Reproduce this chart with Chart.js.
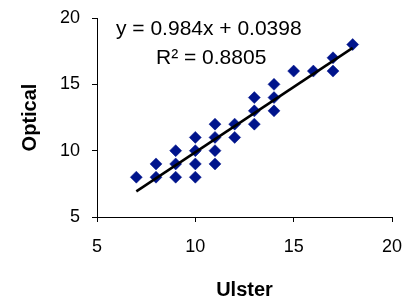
<!DOCTYPE html>
<html>
<head>
<meta charset="utf-8">
<script src="https://cdn.jsdelivr.net/npm/chart.js@4"></script>
<style>
  body { margin: 0; background: #fff; }
</style>
</head>
<body>
<canvas id="myChart" width="406" height="303"></canvas>
<script>
/* globals Chart */

// Ulster vs Optical readings
const ulster = [7, 8, 8, 9, 9, 9, 10, 10, 10, 10, 11, 11, 11, 11, 12, 12, 13, 13, 13, 14, 14, 14, 15, 16, 17, 17, 18];
const optical = [8, 8, 9, 8, 9, 10, 8, 9, 10, 11, 9, 10, 11, 12, 11, 12, 12, 13, 14, 13, 14, 15, 16, 16, 16, 17, 18];

// trendline end points (y = 0.984x + 0.0398)
const trendX = [7, 18];
const trendY = [6.93, 17.75];

const equationText = "y = 0.984x + 0.0398";
const rSquaredText = "R\u00b2 = 0.8805";

const FONT = "'Liberation Sans', Arial, sans-serif";

const equationLabel = {
  id: "equationLabel",
  afterDatasetsDraw(chart) {
    const c = chart.ctx;
    c.save();
    c.fillStyle = "#000";
    c.font = "21px " + FONT;
    c.textBaseline = "alphabetic";
    c.textAlign = "left";
    c.fillText(equationText, 116, 35);
    c.fillText(rSquaredText, 156, 64);
    c.restore();
  },
};

const ctx = document.getElementById("myChart").getContext("2d");

/* exported myChart */
const myChart = new Chart(ctx, {
  type: "scatter",
  plugins: [equationLabel],
  data: {
    datasets: [
      {
        type: "line",
        data: trendX.map((x, i) => ({ x, y: trendY[i] })),
        borderColor: "#000",
        borderWidth: 2.5,
        pointRadius: 0,
        fill: false,
        order: 0,
      },
      {
        data: ulster.map((x, i) => ({ x, y: optical[i] })),
        pointStyle: "rectRot",
        pointRadius: 6,
        backgroundColor: "#00148c",
        borderColor: "#00148c",
        borderWidth: 0.5,
        order: 1,
      },
    ],
  },
  options: {
    responsive: false,
    animation: false,
    events: [],
    layout: {
      padding: { left: 0, top: 18, right: 14, bottom: 1 },
    },
    plugins: {
      legend: { display: false },
      tooltip: { enabled: false },
    },
    scales: {
      x: {
        type: "linear",
        min: 5,
        max: 20,
        ticks: {
          stepSize: 5,
          padding: 14,
          color: "#000",
          font: { family: FONT, size: 18 },
        },
        grid: {
          drawOnChartArea: false,
          drawTicks: true,
          tickLength: 5,
          color: "#000",
        },
        border: { display: true, color: "#000", width: 1 },
        title: {
          display: true,
          text: "Ulster",
          color: "#000",
          padding: { top: 0, bottom: 0 },
          font: { family: FONT, size: 20, weight: "bold" },
        },
        afterFit(scale) {
          scale.height = 85;
          scale.paddingLeft = 0;
          scale.paddingRight = 0;
        },
      },
      y: {
        type: "linear",
        min: 5,
        max: 20,
        ticks: {
          stepSize: 5,
          padding: 12,
          color: "#000",
          font: { family: FONT, size: 18 },
        },
        grid: {
          drawOnChartArea: false,
          drawTicks: true,
          tickLength: 5,
          color: "#000",
        },
        border: { display: true, color: "#000", width: 1 },
        title: {
          display: true,
          text: "Optical",
          color: "#000",
          padding: { top: 18, bottom: 0 },
          font: { family: FONT, size: 20, weight: "bold" },
        },
        afterFit(scale) {
          scale.width = 97;
          scale.paddingTop = 0;
          scale.paddingBottom = 0;
        },
      },
    },
  },
});
</script>
</body>
</html>
